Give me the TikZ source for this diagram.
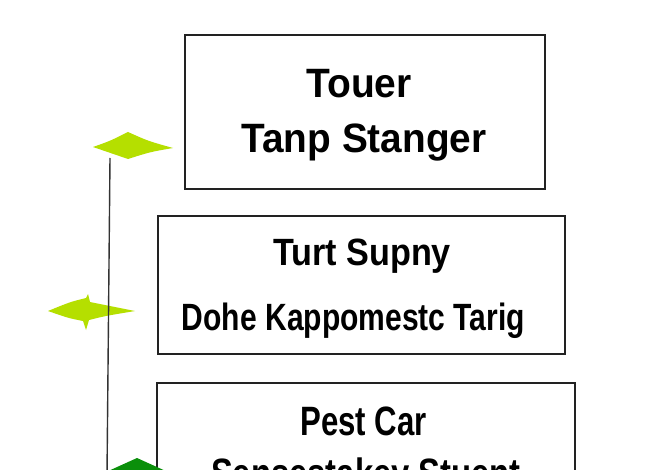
\documentclass[tikz,border=0pt]{standalone}
\usepackage{fontspec}
\setmainfont{Liberation Sans}
\definecolor{lime}{HTML}{B5DF00}
\definecolor{dgreen}{HTML}{0A8F0A}
\definecolor{frame}{HTML}{222222}
\newcommand{\sqz}[2]{\scalebox{#1}[1]{#2}}
\tikzset{
  box/.style={draw=frame, line width=1.8pt, fill=white, rectangle, inner sep=0pt},
  lbl/.style={anchor=base, inner sep=0pt, font=\bfseries, text=black},
  bigA/.style={lbl, font=\fontsize{41}{45}\selectfont\bfseries},
  bigB/.style={lbl, font=\fontsize{38}{42}\selectfont\bfseries},
  bigC/.style={lbl, font=\fontsize{41}{45}\selectfont\bfseries},
  rail/.style={draw=black!80, line width=1.4pt},
}
\begin{document}
\begin{tikzpicture}[x=1pt,y=-1pt]
\useasboundingbox (0,0) rectangle (660,470);
\clip (0,0) rectangle (660,470);
\fill[white] (0,0) rectangle (660,470);

% boxes
\node[box, minimum width=360pt, minimum height=154pt] (b1) at (365,112) {};
\node[box, minimum width=407pt, minimum height=138pt] (b2) at (361.5,285) {};
\node[box, minimum width=418pt, minimum height=130pt] (b3) at (366,448) {};

% texts
\node[bigA] (t1a) at (359,98) {\sqz{0.95}{Touer}};
\node[bigA] (t1b) at (364,153) {\sqz{0.946}{Tanp Stanger}};
\node[bigB] (t2a) at (362,265) {\sqz{0.90}{Turt Supny}};
\node[bigB] (t2b) at (353.5,330) {\sqz{0.79}{Dohe Kappomestc Tarig}};
\node[bigC] (t3a) at (363.5,435) {\sqz{0.76}{Pest Car}};
\node[bigC] (t3b) at (366,487) {\sqz{0.80}{Sensestakey Stuent}};

% diamonds
\fill[lime] (93,147) .. controls (110,141) .. (128,132)
  .. controls (148,141) .. (173,148)
  .. controls (150,152) .. (128,159)
  .. controls (110,153) .. (93,147) -- cycle;
\fill[lime] (48,311) .. controls (70,302) .. (86,298)
  -- (88,294) -- (90,302)
  .. controls (110,306) .. (135,311)
  .. controls (105,316) .. (89,320)
  -- (86,330) -- (83,321)
  .. controls (68,318) .. (48,311) -- cycle;
\fill[dgreen] (95,477) -- (137,458) -- (179,477) -- (137,496) -- cycle;

% rail
\coordinate (r0) at (110,158);
\coordinate (r1) at (107,475);
\draw[rail] (r0) -- (r1);
\end{tikzpicture}
\end{document}
